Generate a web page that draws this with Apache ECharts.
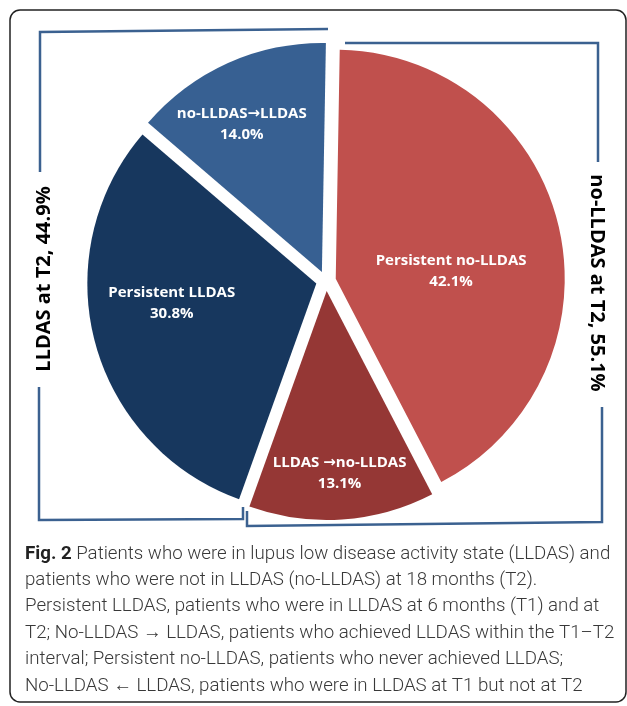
<!DOCTYPE html>
<html>
<head>
<meta charset="utf-8">
<script src="https://cdn.jsdelivr.net/npm/echarts@6/dist/echarts.min.js"></script>
<style>
  html, body { margin: 0; padding: 0; background: #fff; }
  #main { width: 627px; height: 706px; }
</style>
</head>
<body>
<div id="main"></div>
<script>
// slices, clockwise from 12 o'clock
var categories = ['Persistent no-LLDAS', 'LLDAS \u2192no-LLDAS', 'Persistent LLDAS', 'no-LLDAS\u2192LLDAS'];
var values = [42.1, 13.1, 30.8, 14.0];
var colors = ['#C0504D', '#953735', '#17375E', '#376092'];
var groupLabels = ['LLDAS at T2, 44.9%', 'no-LLDAS at T2, 55.1%'];
var captionLines = [
  '{b|Fig. 2} Patients who were in lupus low disease activity state (LLDAS) and',
  'patients who were not in LLDAS (no-LLDAS) at 18 months (T2).',
  'Persistent LLDAS, patients who were in LLDAS at 6 months (T1) and at',
  'T2; No-LLDAS \u2192 LLDAS, patients who achieved LLDAS within the T1\u2013T2',
  'interval; Persistent no-LLDAS, patients who never achieved LLDAS;',
  'No-LLDAS \u2190 LLDAS, patients who were in LLDAS at T1 but not at T2'
];

// label nudges from the default inside position
var labelOffsets = [[1, 19], [5, 65], [-31, -10], [-32, -40]];
var bracketColor = '#3B6190';
var center = [326, 281];
var radius = 229;

var myChart = echarts.init(document.getElementById('main'));

function sliceData(withColor) {
  return values.map(function (v, i) {
    var c = withColor ? colors[i] : 'rgba(0,0,0,0)';
    return {
      name: categories[i],
      value: v,
      selected: true,
      itemStyle: { color: c },
      select: { itemStyle: { color: c } }
    };
  });
}

var graphics = [
  // outer frame
  { type: 'rect', shape: { x: 10, y: 10, width: 616, height: 692, r: 10 },
    style: { fill: null, stroke: '#222', lineWidth: 1.5 }, z: 10 },
  // brackets
  { type: 'polyline', shape: { points: [[40, 172], [40, 32], [328, 29]] },
    style: { stroke: bracketColor, lineWidth: 2.5, fill: null } },
  { type: 'polyline', shape: { points: [[39, 387], [39, 520], [243, 519], [243, 507]] },
    style: { stroke: bracketColor, lineWidth: 2.5, fill: null } },
  { type: 'polyline', shape: { points: [[345, 43], [598, 43], [598, 162]] },
    style: { stroke: bracketColor, lineWidth: 2.5, fill: null } },
  { type: 'polyline', shape: { points: [[602, 407], [602, 522], [247, 526], [247, 511]] },
    style: { stroke: bracketColor, lineWidth: 2.5, fill: null } },
  // group labels
  { type: 'text', x: 44, y: 279, rotation: Math.PI / 2,
    style: { text: groupLabels[0], fill: '#000', font: 'bold 20px "Open Sans", sans-serif',
      textAlign: 'center', textVerticalAlign: 'middle' } },
  { type: 'text', x: 597, y: 283, rotation: -Math.PI / 2,
    style: { text: groupLabels[1], fill: '#000', font: 'bold 20px "Open Sans", sans-serif',
      textAlign: 'center', textVerticalAlign: 'middle' } }
];

captionLines.forEach(function (line, i) {
  graphics.push({
    type: 'text', x: 25, y: 554 + i * 26.4,
    style: {
      text: line, fill: '#383838', fontSize: 18.7, fontFamily: 'Roboto, sans-serif',
      fontWeight: 300, textAlign: 'left', textVerticalAlign: 'middle',
      rich: { b: { fontWeight: 'bold', fontSize: 18.7, fontFamily: 'Roboto, sans-serif', fill: '#222' } }
    }
  });
});

var option = {
  backgroundColor: '#fff',
  animation: false,
  series: [{
    // coloured slices
    type: 'pie',
    z: 2,
    center: center,
    radius: radius,
    startAngle: 89,
    selectedMode: 'multiple',
    selectedOffset: 10,
    emphasis: { disabled: true },
    label: { show: false },
    labelLine: { show: false },
    data: sliceData(true)
  }, {
    // same slices, transparent, carrying the labels on top
    type: 'pie',
    z: 5,
    silent: true,
    center: center,
    radius: radius,
    startAngle: 89,
    selectedMode: 'multiple',
    selectedOffset: 10,
    emphasis: { disabled: true },
    label: {
      show: true,
      position: 'inside',
      overflow: 'none',
      color: '#fff',
      fontFamily: '"Open Sans", sans-serif',
      fontWeight: 'bold',
      fontSize: 15,
      lineHeight: 21,
      align: 'center',
      rich: {
        a: { fontFamily: '"DejaVu Sans", sans-serif', fontWeight: 'bold', fontSize: 15, color: '#fff' }
      },
      formatter: function (p) {
        return p.name.replace('\u2192', '{a|\u2192}') + '\n' + p.value.toFixed(1) + '%';
      }
    },
    labelLayout: function (p) {
      return { dx: labelOffsets[p.dataIndex][0], dy: labelOffsets[p.dataIndex][1] };
    },
    labelLine: { show: false },
    data: sliceData(false)
  }],
  graphic: graphics
};
myChart.setOption(option);
</script>
</body>
</html>
